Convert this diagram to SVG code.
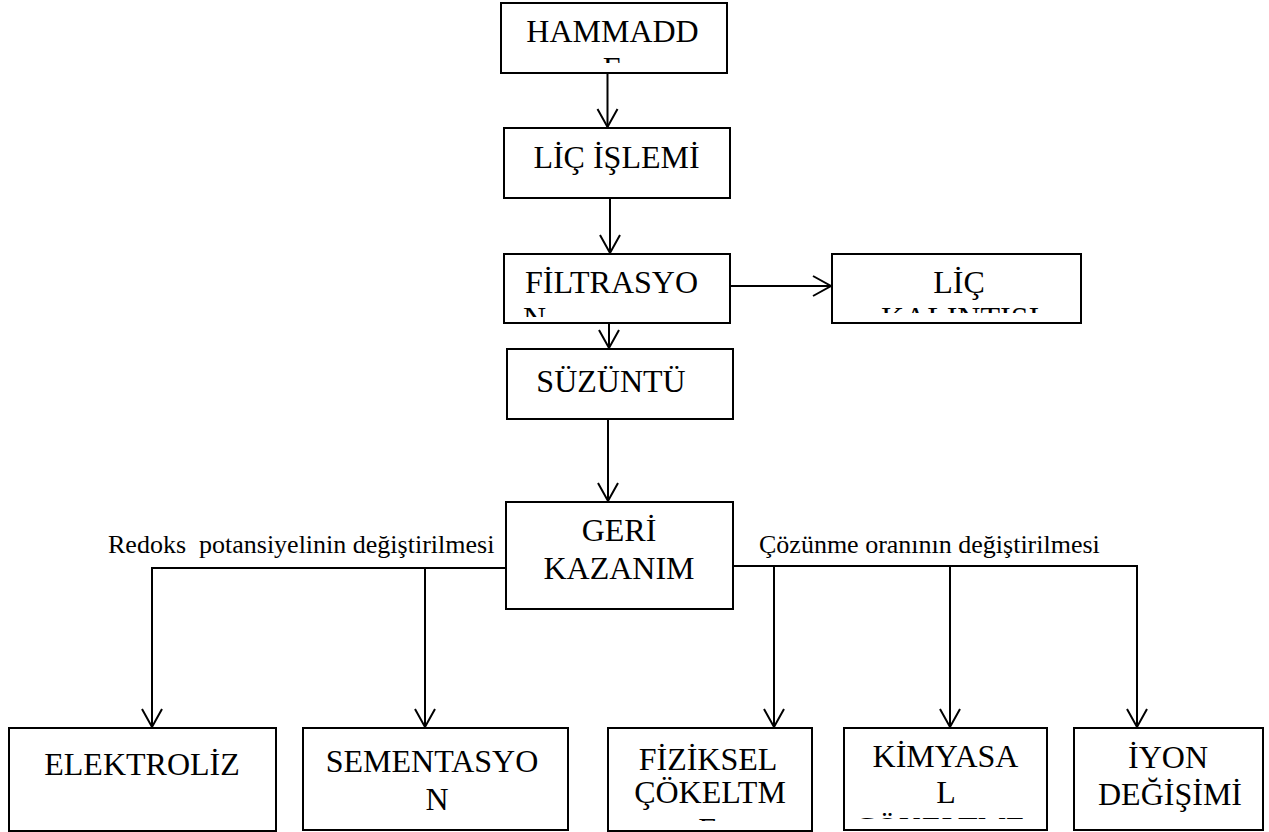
<svg xmlns="http://www.w3.org/2000/svg" width="1269" height="832" viewBox="0 0 1269 832">
<style>
.box{fill:#fff;stroke:#000;stroke-width:2}
.t{font-family:"Liberation Serif","Times New Roman",serif;font-size:32px;fill:#000;text-anchor:middle}
.tl{font-family:"Liberation Serif","Times New Roman",serif;font-size:32px;fill:#000}
.lab{font-family:"Liberation Serif","Times New Roman",serif;font-size:26px;fill:#000}
.c{fill:none;stroke:#000;stroke-width:2}
</style>
<defs>
<marker id="ah" markerUnits="userSpaceOnUse" markerWidth="24" markerHeight="24" refX="20" refY="11" orient="auto">
<path d="M2,1 L20,11 L2,21" fill="none" stroke="#000" stroke-width="2"/>
</marker>
<clipPath id="cp1"><rect x="502" y="4" width="224" height="59"/></clipPath>
<clipPath id="cp3"><rect x="505" y="255" width="224" height="62"/></clipPath>
<clipPath id="cp4"><rect x="833" y="255" width="247" height="58"/></clipPath>
<clipPath id="cp8"><rect x="609" y="729" width="202" height="92"/></clipPath>
<clipPath id="cp9"><rect x="845" y="729" width="201" height="90"/></clipPath>
</defs>

<g id="connectors">
<line class="c" x1="607.5" y1="73" x2="607.5" y2="127" marker-end="url(#ah)"/>
<line class="c" x1="610" y1="198" x2="610" y2="253" marker-end="url(#ah)"/>
<line class="c" x1="609" y1="323" x2="609" y2="348" marker-end="url(#ah)"/>
<line class="c" x1="730" y1="286" x2="831" y2="286" marker-end="url(#ah)"/>
<line class="c" x1="608" y1="419" x2="608" y2="501" marker-end="url(#ah)"/>
<polyline class="c" points="506,568 152,568"/>
<line class="c" x1="152" y1="567" x2="152" y2="727" marker-end="url(#ah)"/>
<line class="c" x1="425" y1="568" x2="425" y2="727" marker-end="url(#ah)"/>
<polyline class="c" points="733,566 1137,566"/>
<line class="c" x1="774" y1="566" x2="774" y2="727" marker-end="url(#ah)"/>
<line class="c" x1="950" y1="566" x2="950" y2="727" marker-end="url(#ah)"/>
<line class="c" x1="1137" y1="565" x2="1137" y2="727" marker-end="url(#ah)"/>
<text class="lab" x="108" y="553" xml:space="preserve">Redoks  potansiyelinin değiştirilmesi</text>
<text class="lab" x="759" y="553">Çözünme oranının değiştirilmesi</text>
</g>

<g id="hammadde">
<rect class="box" x="501" y="3" width="226" height="70"/>
<g clip-path="url(#cp1)">
<text class="t" x="612.5" y="42">HAMMADD</text>
<text class="t" x="612.5" y="79">E</text>
</g>
</g>

<g id="lic-islemi">
<rect class="box" x="504" y="128" width="226" height="70"/>
<text class="t" x="616.5" y="168">LİÇ İŞLEMİ</text>
</g>

<g id="filtrasyon">
<rect class="box" x="504" y="254" width="226" height="69"/>
<g clip-path="url(#cp3)">
<text class="t" x="611.5" y="293">FİLTRASYO</text>
<text class="tl" x="523" y="329">N</text>
</g>
</g>

<g id="lic-kalintisi">
<rect class="box" x="832" y="254" width="249" height="69"/>
<g clip-path="url(#cp4)">
<text class="t" x="959" y="293">LİÇ</text>
<text class="t" x="960" y="329">KALINTISI</text>
</g>
</g>

<g id="suzuntu">
<rect class="box" x="507" y="349" width="226" height="70"/>
<text class="t" x="611" y="392">SÜZÜNTÜ</text>
</g>

<g id="geri-kazanim">
<rect class="box" x="506" y="502" width="227" height="107"/>
<text class="t" x="619" y="541">GERİ</text>
<text class="t" x="619" y="579">KAZANIM</text>
</g>

<g id="elektroliz">
<rect class="box" x="9" y="728" width="267" height="103"/>
<text class="t" x="142" y="775">ELEKTROLİZ</text>
</g>

<g id="sementasyon">
<rect class="box" x="303" y="728" width="265" height="102"/>
<text class="t" x="432" y="772">SEMENTASYO</text>
<text class="t" x="437" y="810">N</text>
</g>

<g id="fiziksel">
<rect class="box" x="608" y="728" width="204" height="103"/>
<g clip-path="url(#cp8)">
<text class="t" x="708" y="770">FİZİKSEL</text>
<text class="t" x="710" y="803">ÇÖKELTM</text>
<text class="t" x="708" y="840">E</text>
</g>
</g>

<g id="kimyasal">
<rect class="box" x="844" y="728" width="203" height="102"/>
<g clip-path="url(#cp9)">
<text class="t" x="945.5" y="767">KİMYASA</text>
<text class="t" x="946" y="803">L</text>
<text class="t" x="940" y="839">ÇÖKELTME</text>
</g>
</g>

<g id="iyon">
<rect class="box" x="1074" y="728" width="189" height="102"/>
<text class="t" x="1168" y="768">İYON</text>
<text class="t" x="1170" y="805">DEĞİŞİMİ</text>
</g>
</svg>
